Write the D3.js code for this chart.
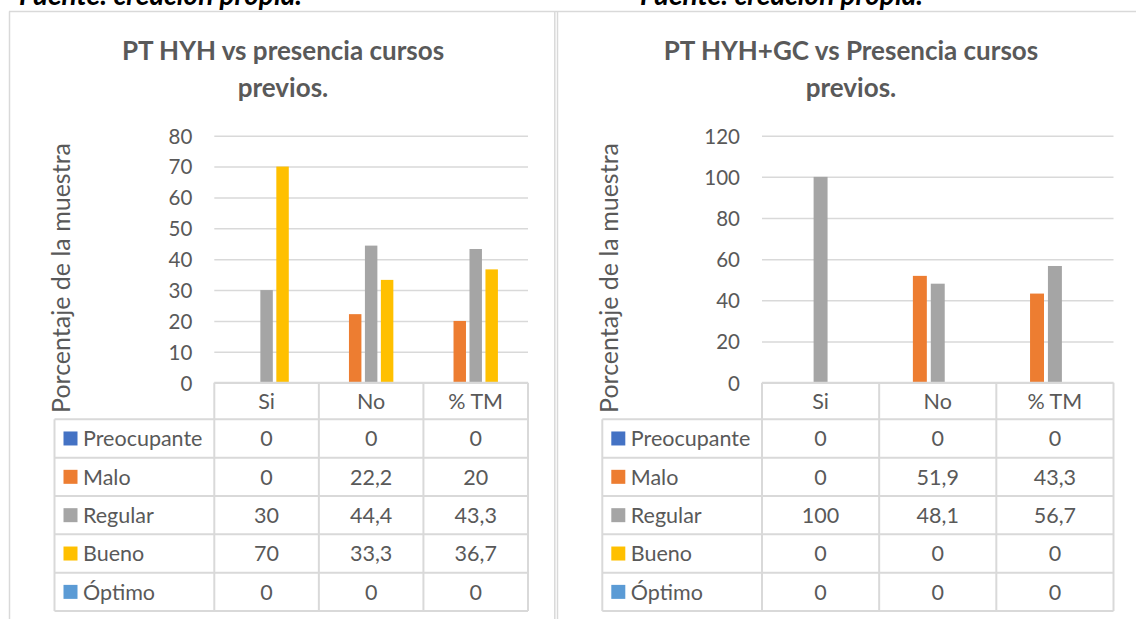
<!DOCTYPE html>
<html lang="es">
  <head>
    <meta charset="UTF-8" />
    <title>PT HYH vs presencia cursos previos</title>
    <script src="https://d3js.org/d3.v7.min.js"></script>
    <style>
      body {
        margin: 0;
        background: #ffffff;
        font-family: Lato, "Open Sans", sans-serif;
      }
      svg text {
        fill: #595959;
      }
    </style>
  </head>
  <body>
    <svg id="chart" width="1136" height="619"></svg>

    <script>
      // Data
      const categories = ["Si", "No", "% TM"];
      const series = ["Preocupante", "Malo", "Regular", "Bueno", "Óptimo"];
      const seriesColors = ["#4472c4", "#ed7d31", "#a5a5a5", "#ffc000", "#5b9bd5"];

      // one row per series, one value per category
      const hyhValues = [
        [0, 0, 0],
        [0, 22.2, 20],
        [30, 44.4, 43.3],
        [70, 33.3, 36.7],
        [0, 0, 0],
      ];
      const hyhgcValues = [
        [0, 0, 0],
        [0, 51.9, 43.3],
        [100, 48.1, 56.7],
        [0, 0, 0],
        [0, 0, 0],
      ];
      const hyhTicks = [0, 10, 20, 30, 40, 50, 60, 70, 80];
      const hyhgcTicks = [0, 20, 40, 60, 80, 100, 120];

      const gridColor = "#d9d9d9";
      const plotTop = 135.7,
        plotBottom = 382.7;
      const headerH = 36.6,
        rowH = 38.35;
      const tableFont = "21.5px";

      const svg = d3.select("#chart");

      // comma decimal like the source (22,2)
      const fmt = d3.formatLocale({ decimal: ",", thousands: ".", grouping: [3], currency: ["", ""] }).format("~r");

      // source caption, cut off at the top of the page as in the source
      [302, 923].forEach((x) => {
        svg
          .append("text")
          .attr("x", x)
          .attr("y", 5)
          .attr("text-anchor", "end")
          .style("font-size", "28px")
          .style("font-weight", "bold")
          .style("font-style", "italic")
          .style("fill", "#000")
          .text("Fuente: creación propia.");
      });

      // chart frames
      svg.append("line").attr("x1", 9).attr("x2", 1136).attr("y1", 11.5).attr("y2", 11.5)
        .attr("stroke", gridColor).attr("stroke-width", 1.5);
      [9.5, 554.8, 557.5].forEach((x) => {
        svg.append("line").attr("x1", x).attr("x2", x).attr("y1", 11.5).attr("y2", 619)
          .attr("stroke", gridColor).attr("stroke-width", 1.5);
      });

      function drawChart(cfg) {
        const g = svg.append("g");

        const x0 = d3.scaleBand().domain(categories).range([cfg.left, cfg.right]);
        const bw = x0.bandwidth();
        const x1 = d3.scaleBand().domain(series).range([bw * 0.135, bw * 0.865]).paddingInner(0.22);
        const y = d3.scaleLinear().domain([0, d3.max(cfg.ticks)]).range([plotBottom, plotTop]);

        // title (two lines)
        cfg.title.forEach((line, i) => {
          g.append("text")
            .attr("x", cfg.titleX)
            .attr("y", 60 + i * 37)
            .attr("text-anchor", "middle")
            .style("font-size", "26px")
            .style("font-weight", "bold")
            .text(line);
        });

        // gridlines
        g.append("g")
          .attr("transform", `translate(${cfg.left},0)`)
          .call(d3.axisLeft(y).tickValues(cfg.ticks).tickSize(-(cfg.right - cfg.left)).tickFormat(""))
          .call((a) => a.select(".domain").remove())
          .selectAll("line")
          .attr("stroke", gridColor)
          .attr("stroke-width", 1.5);

        // tick labels
        g.append("g")
          .attr("transform", `translate(${cfg.left},0)`)
          .call(d3.axisLeft(y).tickValues(cfg.ticks).tickSize(0).tickPadding(22))
          .call((a) => a.select(".domain").remove())
          .selectAll("text")
          .style("font-family", "Lato, sans-serif")
          .style("font-size", "20.5px")
          .attr("dy", "0.36em");

        // y axis title
        g.append("text")
          .attr("transform", `translate(${cfg.yTitleX},278) rotate(-90)`)
          .attr("text-anchor", "middle")
          .style("font-size", "25px")
          .text("Porcentaje de la muestra");

        // bars
        const bars = cfg.values.flatMap((row, i) =>
          row.map((v, j) => ({ series: series[i], cat: categories[j], value: v, color: seriesColors[i] }))
        );
        g.selectAll("rect.bar")
          .data(bars)
          .enter()
          .append("rect")
          .attr("class", "bar")
          .attr("x", (d) => x0(d.cat) + x1(d.series))
          .attr("y", (d) => y(d.value))
          .attr("width", x1.bandwidth())
          .attr("height", (d) => y(0) - y(d.value))
          .attr("fill", (d) => d.color);

        // data table
        const tableTop = plotBottom + headerH;
        const tableBottom = tableTop + rowH * series.length;
        const line = (xa, ya, xb, yb) =>
          g.append("line").attr("x1", xa).attr("y1", ya).attr("x2", xb).attr("y2", yb)
            .attr("stroke", gridColor).attr("stroke-width", 2);

        // header cells
        line(cfg.left, plotBottom, cfg.right, plotBottom);
        categories.forEach((c) => line(x0(c), plotBottom, x0(c), tableBottom));
        line(cfg.right, plotBottom, cfg.right, tableBottom);
        line(cfg.tableLeft, tableTop, cfg.tableLeft, tableBottom);
        d3.range(series.length + 1).forEach((k) =>
          line(cfg.tableLeft, tableTop + k * rowH, cfg.right, tableTop + k * rowH)
        );

        g.selectAll("text.cat")
          .data(categories)
          .enter()
          .append("text")
          .attr("class", "cat")
          .attr("x", (c) => x0(c) + bw / 2)
          .attr("y", plotBottom + headerH / 2)
          .attr("dy", "0.36em")
          .attr("text-anchor", "middle")
          .style("font-size", tableFont)
          .text((c) => c);

        series.forEach((s, i) => {
          const cy = tableTop + rowH * i + rowH / 2;
          g.append("rect")
            .attr("x", cfg.tableLeft + 9)
            .attr("y", cy - 7)
            .attr("width", 14)
            .attr("height", 14)
            .attr("fill", seriesColors[i]);
          g.append("text")
            .attr("x", cfg.tableLeft + 28.5)
            .attr("y", cy)
            .attr("dy", "0.36em")
            .style("font-size", tableFont)
            .text(s);
          categories.forEach((c, j) => {
            g.append("text")
              .attr("x", x0(c) + bw / 2)
              .attr("y", cy)
              .attr("dy", "0.36em")
              .attr("text-anchor", "middle")
              .style("font-size", tableFont)
              .text(fmt(cfg.values[i][j]));
          });
        });
      }

      drawChart({
        title: ["PT HYH vs presencia cursos", "previos."],
        titleX: 283,
        values: hyhValues,
        ticks: hyhTicks,
        left: 214.3,
        right: 528,
        tableLeft: 54.5,
        yTitleX: 70,
      });

      drawChart({
        title: ["PT HYH+GC vs Presencia cursos", "previos."],
        titleX: 851,
        values: hyhgcValues,
        ticks: hyhgcTicks,
        left: 762,
        right: 1113.5,
        tableLeft: 602.3,
        yTitleX: 618,
      });
    </script>
  </body>
</html>
